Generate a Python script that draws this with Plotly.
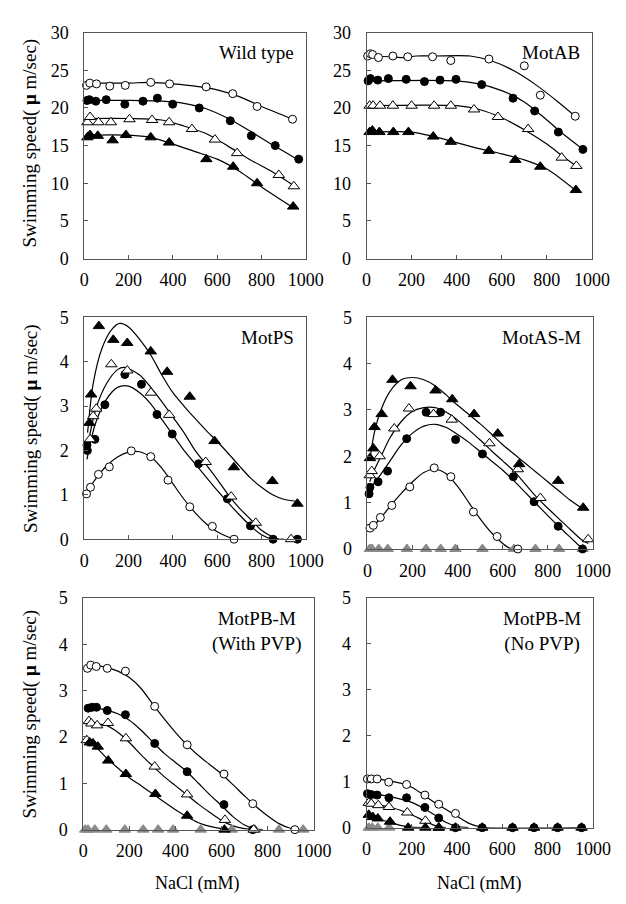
import plotly.graph_objects as go

W, H = 626, 904

# ---------------- Wild type ----------------
wt_oc_x = [10, 25, 55, 115, 185, 300, 385, 550, 670, 780, 940]
wt_oc_y = [23.0, 23.3, 23.2, 22.9, 23.0, 23.4, 23.2, 22.8, 21.9, 20.2, 18.5]
wt_fc_x = [12, 23, 52, 99, 183, 265, 330, 399, 519, 659, 754, 862, 968]
wt_fc_y = [21.0, 21.1, 20.9, 21.1, 20.5, 20.9, 21.3, 20.5, 20.0, 18.3, 16.3, 15.0, 13.2]
wt_ot_x = [14, 26, 64, 120, 204, 306, 383, 486, 590, 690, 878, 946]
wt_ot_y = [18.1, 18.8, 18.1, 18.1, 18.5, 18.4, 18.1, 17.2, 15.8, 14.0, 11.1, 9.6]
wt_ft_x = [14, 26, 61, 128, 188, 300, 383, 551, 672, 780, 943]
wt_ft_y = [16.1, 16.4, 16.3, 15.7, 16.4, 16.1, 15.4, 13.2, 12.2, 10.0, 6.9]
# fitted curves
wt_oc_fx = [5, 100, 200, 300, 400, 500, 600, 700, 800, 900, 940]
wt_oc_fy = [23.3, 23.3, 23.3, 23.4, 23.2, 22.9, 22.4, 21.5, 20.2, 19.0, 18.5]
wt_fc_fx = [5, 200, 350, 450, 550, 650, 750, 850, 960]
wt_fc_fy = [21.0, 21.0, 20.9, 20.6, 19.9, 18.6, 16.9, 15.1, 13.2]
wt_ot_fx = [5, 200, 350, 450, 550, 650, 750, 850, 940]
wt_ot_fy = [18.6, 18.6, 18.4, 17.6, 16.6, 14.9, 13.1, 11.5, 9.8]
wt_ft_fx = [5, 200, 300, 400, 500, 600, 700, 800, 940]
wt_ft_fy = [16.4, 16.4, 16.1, 15.2, 14.2, 13.2, 11.6, 9.5, 6.8]

# ---------------- MotAB ----------------
ab_oc_x = [5, 17, 27, 53, 117, 183, 293, 374, 543, 700, 771, 926]
ab_oc_y = [26.9, 27.2, 27.1, 26.7, 26.9, 26.8, 26.8, 26.3, 26.5, 25.6, 21.7, 18.9]
ab_fc_x = [7, 17, 50, 97, 176, 257, 326, 397, 511, 650, 746, 851, 960]
ab_fc_y = [23.6, 23.9, 23.7, 23.9, 23.8, 23.5, 23.7, 23.8, 23.1, 21.3, 19.6, 16.8, 14.5]
ab_ot_x = [14, 29, 60, 117, 200, 300, 374, 477, 583, 717, 866, 931]
ab_ot_y = [20.3, 20.3, 20.3, 20.3, 20.3, 20.3, 20.3, 19.8, 18.8, 17.2, 13.4, 12.3]
ab_ft_x = [14, 26, 57, 119, 186, 296, 374, 543, 660, 771, 929]
ab_ft_y = [16.8, 17.0, 16.8, 16.8, 16.8, 16.2, 15.5, 14.3, 13.1, 12.2, 9.1]
ab_oc_fx = [5, 100, 170, 220, 300, 460, 550, 650, 750, 850, 930]
ab_oc_fy = [26.9, 26.8, 26.7, 26.9, 26.9, 26.9, 26.3, 25.0, 23.1, 20.8, 18.8]
ab_fc_fx = [5, 400, 500, 600, 700, 800, 870, 960]
ab_fc_fy = [23.6, 23.6, 23.2, 22.3, 20.8, 18.4, 16.6, 14.5]
ab_ot_fx = [5, 400, 500, 600, 700, 800, 870, 930]
ab_ot_fy = [20.3, 20.3, 19.8, 18.7, 17.1, 15.2, 13.6, 12.3]
ab_ft_fx = [5, 200, 300, 400, 500, 600, 700, 800, 930]
ab_ft_fy = [16.8, 16.8, 16.2, 15.4, 14.6, 13.9, 13.1, 11.9, 9.0]

# ---------------- MotPS ----------------
ps_oc_x = [10, 28, 64, 113, 212, 300, 378, 476, 578, 676]
ps_oc_y = [1.02, 1.17, 1.46, 1.63, 1.99, 1.86, 1.33, 0.73, 0.29, 0.0]
ps_fc_x = [12, 14, 48, 93, 183, 258, 328, 397, 516, 646, 750, 852, 962]
ps_fc_y = [2.12, 2.0, 2.25, 3.03, 3.71, 3.49, 2.81, 2.37, 1.70, 0.91, 0.30, 0.0, 0.0]
ps_ot_x = [26, 40, 54, 122, 194, 301, 383, 548, 663, 774, 933]
ps_ot_y = [2.25, 2.77, 2.94, 3.94, 3.80, 3.30, 2.80, 1.74, 0.96, 0.37, 0.0]
ps_ft_x = [23, 31, 66, 131, 194, 300, 374, 476, 588, 675, 849, 962]
ps_ft_y = [2.62, 3.26, 4.80, 4.49, 4.42, 4.23, 3.77, 3.21, 2.21, 1.62, 1.31, 0.80]
ps_oc_fx = [10, 50, 100, 150, 200, 250, 300, 350, 400, 450, 500, 550, 600, 650, 680]
ps_oc_fy = [1.05, 1.35, 1.65, 1.85, 1.96, 1.97, 1.85, 1.6, 1.25, 0.9, 0.6, 0.35, 0.17, 0.05, 0.0]
ps_fc_fx = [12, 50, 100, 150, 200, 250, 300, 350, 400, 450, 500, 550, 600, 650, 700, 750, 800, 850, 900]
ps_fc_fy = [1.8, 2.6, 3.15, 3.42, 3.45, 3.3, 3.05, 2.7, 2.35, 2.0, 1.7, 1.4, 1.1, 0.82, 0.55, 0.3, 0.1, 0.0, 0.0]
ps_ot_fx = [12, 50, 100, 150, 180, 250, 300, 350, 400, 450, 500, 550, 600, 650, 700, 750, 800, 850, 880]
ps_ot_fy = [2.0, 2.9, 3.5, 3.82, 3.87, 3.7, 3.42, 3.1, 2.75, 2.4, 2.0, 1.68, 1.35, 1.0, 0.7, 0.45, 0.2, 0.05, 0.0]
ps_ft_fx = [15, 40, 80, 120, 160, 200, 250, 300, 350, 400, 450, 500, 550, 600, 650, 700, 750, 800, 850, 900, 960]
ps_ft_fy = [2.4, 3.5, 4.3, 4.7, 4.86, 4.78, 4.5, 4.15, 3.7, 3.3, 3.0, 2.72, 2.45, 2.2, 1.93, 1.65, 1.38, 1.17, 1.0, 0.9, 0.85]

# ---------------- MotAS-M ----------------
as_oc_x = [11, 26, 57, 108, 188, 296, 370, 470, 575, 667]
as_oc_y = [0.45, 0.51, 0.68, 0.94, 1.34, 1.75, 1.56, 0.80, 0.27, 0.0]
as_fc_x = [7, 11, 47, 89, 174, 260, 324, 391, 510, 647, 739, 846, 954]
as_fc_y = [1.19, 1.33, 1.45, 1.68, 2.38, 2.95, 2.95, 2.36, 2.05, 1.56, 1.02, 0.49, 0.0]
as_ot_x = [10, 19, 54, 119, 184, 293, 374, 541, 667, 767, 979]
as_ot_y = [1.59, 1.68, 2.0, 2.6, 3.03, 2.91, 2.79, 2.28, 1.72, 1.10, 0.21]
as_ft_x = [11, 26, 31, 63, 111, 191, 302, 376, 473, 578, 673, 846, 957]
as_ft_y = [1.96, 2.17, 2.63, 2.91, 3.65, 3.51, 3.42, 3.23, 2.91, 2.49, 1.83, 1.47, 0.89]
as_gt_x = [10, 20, 50, 90, 175, 260, 325, 390, 510, 650, 745, 850, 955]
as_gt_y = [0, 0, 0, 0, 0, 0, 0, 0, 0, 0, 0, 0, 0]
as_oc_fx = [10, 50, 100, 150, 200, 250, 300, 350, 400, 450, 500, 550, 600, 630, 670]
as_oc_fy = [0.42, 0.62, 0.92, 1.2, 1.45, 1.65, 1.72, 1.62, 1.35, 1.0, 0.65, 0.35, 0.12, 0.02, 0.0]
as_fc_fx = [10, 50, 100, 150, 200, 250, 300, 350, 400, 450, 500, 550, 600, 650, 700, 750, 800, 850, 900, 950]
as_fc_fy = [1.3, 1.55, 1.9, 2.25, 2.5, 2.65, 2.69, 2.62, 2.47, 2.3, 2.1, 1.9, 1.7, 1.47, 1.22, 0.97, 0.72, 0.48, 0.25, 0.02]
as_ot_fx = [10, 30, 60, 100, 150, 200, 250, 300, 350, 400, 450, 500, 550, 600, 650, 700, 750, 800, 850, 900, 950, 980]
as_ot_fy = [1.45, 1.7, 2.0, 2.4, 2.75, 2.97, 3.05, 3.05, 2.95, 2.78, 2.57, 2.35, 2.12, 1.9, 1.68, 1.4, 1.12, 0.88, 0.65, 0.42, 0.2, 0.12]
as_ft_fx = [10, 30, 60, 100, 150, 200, 250, 300, 350, 400, 450, 500, 550, 600, 650, 700, 750, 800, 850, 900, 960]
as_ft_fy = [1.9, 2.5, 3.0, 3.4, 3.65, 3.7, 3.65, 3.52, 3.32, 3.1, 2.9, 2.7, 2.48, 2.25, 2.05, 1.85, 1.65, 1.45, 1.25, 1.05, 0.85]

# ---------------- MotPB-M (With PVP) ----------------
pw_oc_x = [18, 32, 56, 104, 183, 310, 451, 611, 736, 919]
pw_oc_y = [3.48, 3.55, 3.52, 3.48, 3.42, 2.66, 1.83, 1.20, 0.56, 0.0]
pw_fc_x = [21, 38, 57, 104, 183, 310, 451, 611, 736]
pw_fc_y = [2.62, 2.64, 2.64, 2.57, 2.48, 1.86, 1.25, 0.54, 0.0]
pw_ot_x = [15, 24, 35, 60, 107, 185, 310, 451, 615, 740]
pw_ot_y = [1.93, 2.34, 2.29, 2.25, 2.30, 1.97, 1.36, 0.76, 0.21, 0.0]
pw_ft_x = [28, 42, 63, 108, 185, 313, 451, 613]
pw_ft_y = [1.88, 1.86, 1.79, 1.49, 1.20, 0.77, 0.30, 0.0]
pw_gt_x = [8, 20, 50, 100, 180, 260, 325, 390, 510, 645, 745, 850, 955]
pw_gt_y = [0, 0, 0, 0, 0, 0, 0, 0, 0, 0, 0, 0, 0]
pw_oc_fx = [10, 50, 100, 150, 200, 250, 300, 350, 400, 450, 500, 550, 600, 650, 700, 750, 800, 850, 900, 940]
pw_oc_fy = [3.5, 3.55, 3.5, 3.42, 3.28, 3.05, 2.72, 2.4, 2.1, 1.83, 1.6, 1.4, 1.2, 0.97, 0.73, 0.5, 0.3, 0.13, 0.03, 0.0]
pw_fc_fx = [10, 50, 100, 150, 200, 250, 300, 350, 400, 450, 500, 550, 600, 650, 700, 750, 780]
pw_fc_fy = [2.6, 2.62, 2.58, 2.5, 2.36, 2.15, 1.9, 1.65, 1.45, 1.25, 1.0, 0.75, 0.52, 0.28, 0.1, 0.01, 0.0]
pw_ot_fx = [10, 50, 100, 150, 200, 250, 300, 350, 400, 450, 500, 550, 600, 650, 700, 750]
pw_ot_fy = [2.3, 2.28, 2.25, 2.1, 1.88, 1.62, 1.38, 1.15, 0.95, 0.75, 0.55, 0.37, 0.2, 0.08, 0.02, 0.0]
pw_ft_fx = [10, 50, 100, 150, 200, 250, 300, 350, 400, 450, 500, 550, 600, 650]
pw_ft_fy = [1.88, 1.8, 1.55, 1.33, 1.12, 0.95, 0.78, 0.6, 0.43, 0.28, 0.15, 0.07, 0.02, 0.0]

# ---------------- MotPB-M (No PVP) ----------------
np_oc_x = [4, 21, 47, 98, 177, 258, 319, 393]
np_oc_y = [1.06, 1.06, 1.06, 0.99, 0.94, 0.71, 0.51, 0.31]
np_fc_x = [4, 21, 47, 99, 177, 258, 319, 393, 511, 645, 740, 844, 950]
np_fc_y = [0.74, 0.72, 0.71, 0.65, 0.65, 0.44, 0.21, 0.0, 0.0, 0.0, 0.0, 0.0, 0.0]
np_ot_x = [10, 21, 52, 99, 180, 260, 319]
np_ot_y = [0.54, 0.52, 0.49, 0.45, 0.33, 0.15, 0.0]
np_ft_x = [10, 28, 50, 104, 184, 260, 319, 393, 511, 645, 740, 844, 950]
np_ft_y = [0.28, 0.23, 0.20, 0.13, 0.0, 0.0, 0.0, 0.0, 0.0, 0.0, 0.0, 0.0, 0.0]
np_gt_x = [10, 25, 50, 100]
np_gt_y = [0, 0, 0, 0]
np_oc_fx = [5, 50, 100, 150, 200, 250, 300, 350, 400, 450, 500, 530, 955]
np_oc_fy = [1.06, 1.05, 1.02, 0.97, 0.88, 0.72, 0.55, 0.4, 0.25, 0.1, 0.02, 0.0, 0.0]
np_fc_fx = [5, 50, 100, 150, 200, 250, 300, 350, 400, 450]
np_fc_fy = [0.74, 0.72, 0.68, 0.62, 0.55, 0.43, 0.28, 0.12, 0.03, 0.0]
np_ot_fx = [5, 50, 100, 150, 200, 250, 300, 350]
np_ot_fy = [0.55, 0.5, 0.45, 0.38, 0.28, 0.16, 0.05, 0.0]
np_ft_fx = [5, 50, 100, 150, 200, 250]
np_ft_fy = [0.3, 0.2, 0.12, 0.05, 0.01, 0.0]

STYLE = {
    "oc": dict(symbol="circle", size=8, color="white", line=dict(color="black", width=1)),
    "fc": dict(symbol="circle", size=8, color="black", line=dict(color="black", width=1)),
    "ot": dict(symbol="triangle-up", size=10, color="white", line=dict(color="black", width=1)),
    "ft": dict(symbol="triangle-up", size=10, color="black", line=dict(color="black", width=1)),
    "gt": dict(symbol="triangle-up", size=10, color="#8a8a8a", line=dict(color="#8a8a8a", width=1)),
}

# panel: (label, ymax, ydtick, pixel box [left, top, right, bottom], series)
panels = [
    ("Wild type", 30, 5, [74, 15, 304, 246], [
        ("oc", wt_oc_x, wt_oc_y, wt_oc_fx, wt_oc_fy),
        ("fc", wt_fc_x, wt_fc_y, wt_fc_fx, wt_fc_fy),
        ("ot", wt_ot_x, wt_ot_y, wt_ot_fx, wt_ot_fy),
        ("ft", wt_ft_x, wt_ft_y, wt_ft_fx, wt_ft_fy)]),
    ("MotAB", 30, 5, [367, 15, 601, 246], [
        ("oc", ab_oc_x, ab_oc_y, ab_oc_fx, ab_oc_fy),
        ("fc", ab_fc_x, ab_fc_y, ab_fc_fx, ab_fc_fy),
        ("ot", ab_ot_x, ab_ot_y, ab_ot_fx, ab_ot_fy),
        ("ft", ab_ft_x, ab_ft_y, ab_ft_fx, ab_ft_fy)]),
    ("MotPS", 5, 1, [74, 306, 304, 533], [
        ("oc", ps_oc_x, ps_oc_y, ps_oc_fx, ps_oc_fy),
        ("fc", ps_fc_x, ps_fc_y, ps_fc_fx, ps_fc_fy),
        ("ot", ps_ot_x, ps_ot_y, ps_ot_fx, ps_ot_fy),
        ("ft", ps_ft_x, ps_ft_y, ps_ft_fx, ps_ft_fy)]),
    ("MotAS-M", 5, 1, [368, 306, 602, 543], [
        ("gt", as_gt_x, as_gt_y, None, None),
        ("oc", as_oc_x, as_oc_y, as_oc_fx, as_oc_fy),
        ("fc", as_fc_x, as_fc_y, as_fc_fx, as_fc_fy),
        ("ot", as_ot_x, as_ot_y, as_ot_fx, as_ot_fy),
        ("ft", as_ft_x, as_ft_y, as_ft_fx, as_ft_fy)]),
    ("MotPB-M<br>(With PVP)", 5, 1, [73, 593, 312, 830], [
        ("gt", pw_gt_x, pw_gt_y, None, None),
        ("oc", pw_oc_x, pw_oc_y, pw_oc_fx, pw_oc_fy),
        ("fc", pw_fc_x, pw_fc_y, pw_fc_fx, pw_fc_fy),
        ("ot", pw_ot_x, pw_ot_y, pw_ot_fx, pw_ot_fy),
        ("ft", pw_ft_x, pw_ft_y, pw_ft_fx, pw_ft_fy)]),
    ("MotPB-M<br>(No PVP)", 5, 1, [367, 593, 602, 828], [
        ("gt", np_gt_x, np_gt_y, None, None),
        ("oc", np_oc_x, np_oc_y, np_oc_fx, np_oc_fy),
        ("fc", np_fc_x, np_fc_y, np_fc_fx, np_fc_fy),
        ("ot", np_ot_x, np_ot_y, np_ot_fx, np_ot_fy),
        ("ft", np_ft_x, np_ft_y, np_ft_fx, np_ft_fy)]),
]

FONT = "Liberation Serif"
fig = go.Figure()
layout = {}
annotations = []

for i, (label, ymax, ydt, box, series) in enumerate(panels):
    n = "" if i == 0 else str(i + 1)
    xa, ya = "x" + n, "y" + n
    l, t, r, b = box
    axis_common = dict(showline=True, mirror=True, linecolor="#555", linewidth=1,
                       ticks="inside", ticklen=4, tickcolor="#555", showgrid=False,
                       zeroline=False, tickfont=dict(family=FONT, size=18, color="black"))
    layout["xaxis" + n] = dict(domain=[l / W, r / W], anchor=ya, range=[0, 1000],
                               dtick=200, ticklabelstandoff=5, **axis_common)
    layout["yaxis" + n] = dict(domain=[1 - b / H, 1 - t / H], anchor=xa, range=[0, ymax],
                               dtick=ydt, ticklabelstandoff=11, **axis_common)
    # fitted lines first, then markers on top
    for key, px, py, fx, fy in series:
        if fx is not None:
            fig.add_trace(go.Scatter(x=fx, y=fy, mode="lines", xaxis=xa, yaxis=ya,
                                     line=dict(color="black", width=1.2, shape="spline", smoothing=0.8),
                                     showlegend=False, hoverinfo="skip"))
    for key, px, py, fx, fy in series:
        fig.add_trace(go.Scatter(x=px, y=py, mode="markers", xaxis=xa, yaxis=ya,
                                 marker=STYLE[key], cliponaxis=False, showlegend=False))
    annotations.append(dict(text=label, xref="paper", yref="paper", x=(r - 10) / W,
                            y=1 - (t + 8) / H, xanchor="right", yanchor="top",
                            align="center", showarrow=False,
                            font=dict(family=FONT, size=19, color="black")))

# y titles
for yc in [128, 420, 712]:
    annotations.append(dict(text="Swimming speed( <b>\u03bc</b> m/sec)", xref="paper", yref="paper",
                            x=18 / W, y=1 - yc / H, textangle=-90, showarrow=False,
                            xanchor="center", yanchor="middle",
                            font=dict(family=FONT, size=19, color="black")))
# x titles
for xc in [192, 484]:
    annotations.append(dict(text="NaCl (mM)", xref="paper", yref="paper",
                            x=xc / W, y=1 - 885 / H, showarrow=False,
                            xanchor="center", yanchor="middle",
                            font=dict(family=FONT, size=18, color="black")))

fig.update_layout(width=W, height=H, margin=dict(l=0, r=0, t=0, b=0),
                  paper_bgcolor="white", plot_bgcolor="white",
                  font=dict(family=FONT, color="black"),
                  annotations=annotations, **layout)

fig.write_html("out.html")
